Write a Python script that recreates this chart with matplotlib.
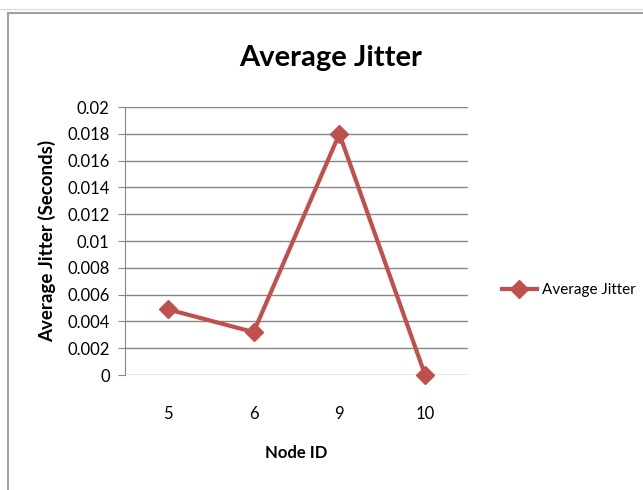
import matplotlib
matplotlib.use("Agg")
import matplotlib.pyplot as plt
from matplotlib.patches import Rectangle
from matplotlib.lines import Line2D

plt.rcParams['font.family'] = ['Lato', 'DejaVu Sans']

node_ids = ["5", "6", "9", "10"]
avg_jitter = [0.0049, 0.0032, 0.0180, 0.0]
y_ticks = [0, 0.002, 0.004, 0.006, 0.008, 0.01, 0.012, 0.014, 0.016, 0.018, 0.02]
y_tick_labels = ["0", "0.002", "0.004", "0.006", "0.008", "0.01", "0.012",
                 "0.014", "0.016", "0.018", "0.02"]

fig = plt.figure(figsize=(6.43, 4.90), dpi=100)
W, H = 643, 490

# chart frame
fig.add_artist(Line2D([0, 1], [1 - 9 / H, 1 - 9 / H], color="#dcdcdc", lw=1))
fig.add_artist(Rectangle((8 / W, -0.01), 1.0, 1 - 13 / H + 0.01,
                         transform=fig.transFigure, fill=False,
                         edgecolor="#a0a0a0", lw=1.5))

ax = fig.add_axes([125 / W, 1 - 375 / H, (468 - 125) / W, (375 - 107) / H])
x = list(range(len(node_ids)))
ax.plot(x, avg_jitter, color="#C0504D", lw=3, marker="D", markersize=9.5,
        label="Average Jitter", clip_on=False, zorder=3)

ax.set_xlim(-0.5, len(node_ids) - 0.5)
ax.set_ylim(0, 0.02)
ax.set_yticks(y_ticks)
ax.set_yticklabels(y_tick_labels)
ax.set_xticks(x)
ax.set_xticklabels(node_ids)
ax.grid(axis="y", color="#868686", lw=1)
ax.set_axisbelow(True)
for s in ["top", "right", "bottom"]:
    ax.spines[s].set_visible(False)
ax.spines["left"].set_color("#868686")
ax.tick_params(axis="y", length=5, color="#868686", labelsize=12, pad=6)
ax.tick_params(axis="x", length=0, labelsize=12, pad=22)

ax.set_xlabel("Node ID", fontsize=12, fontweight="bold", labelpad=17)
ax.set_ylabel("Average Jitter (Seconds)", fontsize=13.5, fontweight="bold", labelpad=8)
fig.text(331 / W, 1 - 58 / H, "Average Jitter",
         fontsize=21, fontweight="bold", ha="center", va="center")

leg = fig.legend(handles=ax.get_lines(), loc="center left",
                 bbox_to_anchor=(488 / W, 1 - 290 / H), frameon=False,
                 fontsize=11, handlelength=2.3, handletextpad=0.35)

fig.savefig("out.png", dpi=100)
